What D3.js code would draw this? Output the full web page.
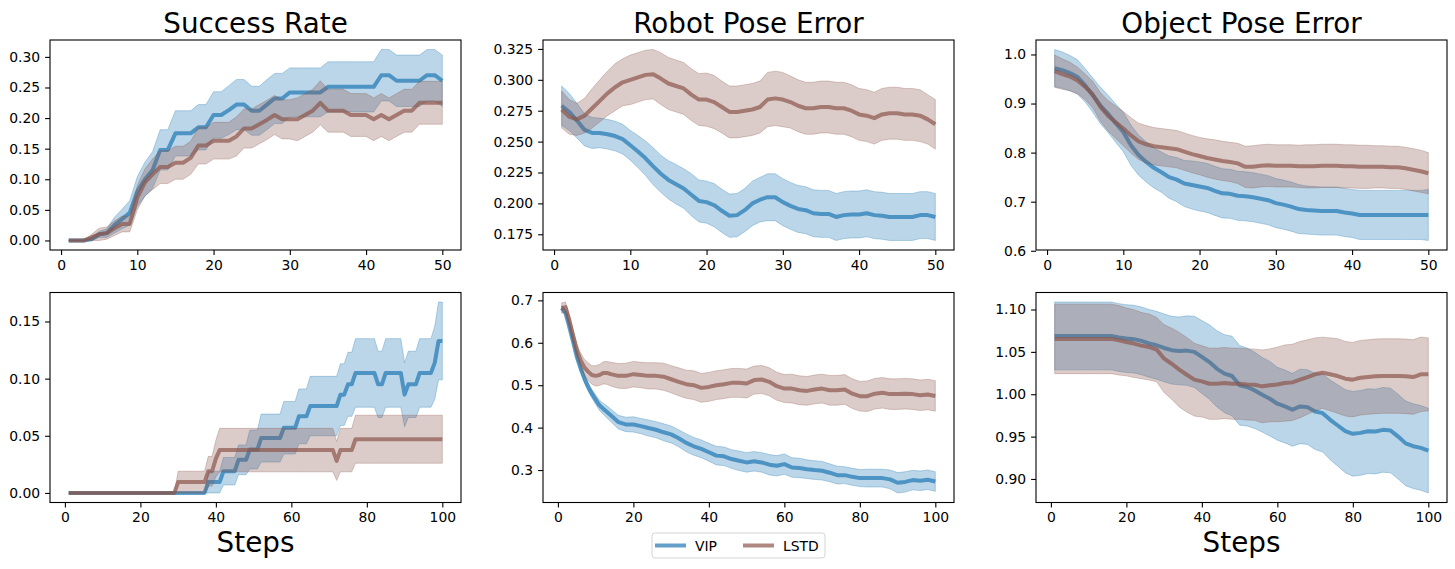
<!DOCTYPE html>
<html>
<head>
<meta charset="utf-8">
<script src="https://cdn.jsdelivr.net/npm/d3@7"></script>
<style>
  body { margin: 0; background: #fff; }
  text { font-family: "DejaVu Sans", sans-serif; }
</style>
</head>
<body>
<div id="chart"></div>
<script>
// ---- data ----
var stepsTop = d3.range(1, 51);
var stepsSuccessBottom = d3.range(1, 101);
var stepsRobotBottom = [1,2,3,4,5,6,7,8,9,10,11,12,13,14,16,18,20,22,24,26,28,30,32,34,36,38,40,42,44,46,48,50,
    52,54,56,58,60,62,64,66,68,70,72,74,76,78,80,82,84,86,88,90,92,94,96,98,100];
var stepsObjectBottom = [1,4,8,12,16,18,20,22,24,26,28,30,32,34,36,38,40,42,44,46,48,50,
    52,54,56,58,60,62,64,66,68,70,72,74,76,78,80,82,84,86,88,90,92,94,96,98,100];

// success rate, 50 steps
var vipSuccessTop = [0,0,0,0.002,0.01,0.012,0.025,0.035,0.045,0.08, 0.10,0.115,0.148,0.148,0.175,0.175,0.175,0.185,0.185,0.205,
    0.205,0.213,0.222,0.222,0.212,0.212,0.222,0.232,0.232,0.242, 0.242,0.242,0.242,0.242,0.251,0.251,0.251,0.251,0.251,0.251,
    0.251,0.27,0.27,0.261,0.261,0.261,0.261,0.27,0.27,0.261];
var vipSuccessTopStd = [0,0,0,0.002,0.005,0.007,0.013,0.016,0.02,0.024, 0.028,0.03,0.033,0.033,0.037,0.037,0.037,0.037,0.037,0.038,
    0.038,0.04,0.041,0.041,0.04,0.04,0.041,0.041,0.041,0.04, 0.04,0.04,0.04,0.04,0.041,0.041,0.041,0.041,0.041,0.041,
    0.041,0.042,0.042,0.042,0.042,0.042,0.042,0.042,0.042,0.042];
var lstdSuccessTop = [0,0,0,0.005,0.01,0.012,0.02,0.027,0.027,0.07, 0.095,0.108,0.12,0.12,0.127,0.127,0.135,0.155,0.155,0.163,
    0.163,0.163,0.17,0.183,0.183,0.19,0.197,0.205,0.198,0.198, 0.198,0.205,0.212,0.225,0.212,0.212,0.212,0.205,0.205,0.205,
    0.198,0.205,0.198,0.205,0.212,0.212,0.225,0.225,0.225,0.225];
var lstdSuccessTopStd = [0,0,0,0.005,0.01,0.01,0.012,0.013,0.013,0.02, 0.022,0.025,0.027,0.027,0.027,0.027,0.027,0.03,0.03,0.03,
    0.03,0.03,0.032,0.032,0.032,0.032,0.032,0.032,0.032,0.032, 0.035,0.035,0.035,0.036,0.035,0.035,0.035,0.035,0.035,0.035,
    0.035,0.035,0.035,0.035,0.035,0.035,0.035,0.035,0.035,0.035];

// robot pose error, 50 steps
var vipRobotTop = [0.279,0.274,0.267,0.2595,0.257,0.257,0.256,0.2545,0.252,0.247, 0.242,0.2365,0.23,0.224,0.219,0.2155,0.212,0.207,0.202,0.201,
    0.1985,0.194,0.19,0.1905,0.1945,0.2,0.203,0.205,0.205,0.201, 0.198,0.1955,0.1945,0.192,0.1915,0.1915,0.189,0.1905,0.191,0.191,
    0.192,0.1905,0.19,0.189,0.189,0.189,0.189,0.1905,0.1905,0.189];
var vipRobotTopStd = [0.016,0.015,0.014,0.013,0.0125,0.012,0.012,0.012,0.012,0.012, 0.013,0.014,0.015,0.015,0.0155,0.016,0.016,0.017,0.017,0.017,
    0.0175,0.0175,0.0175,0.0175,0.0175,0.018,0.018,0.019,0.019,0.019, 0.019,0.019,0.019,0.019,0.019,0.019,0.019,0.019,0.019,0.019,
    0.019,0.019,0.019,0.019,0.019,0.019,0.019,0.019,0.019,0.019];
var lstdRobotTop = [0.276,0.27,0.268,0.271,0.277,0.283,0.289,0.294,0.298,0.3, 0.302,0.304,0.3045,0.301,0.297,0.295,0.293,0.288,0.284,0.284,
    0.282,0.278,0.274,0.274,0.275,0.276,0.278,0.284,0.285,0.284, 0.282,0.279,0.277,0.277,0.278,0.278,0.277,0.277,0.275,0.272,
    0.271,0.269,0.272,0.273,0.273,0.272,0.272,0.271,0.268,0.264];
var lstdRobotTopStd = [0.015,0.014,0.013,0.014,0.016,0.017,0.018,0.019,0.019,0.02, 0.02,0.02,0.02,0.021,0.021,0.021,0.021,0.021,0.021,0.0215,
    0.0215,0.021,0.021,0.021,0.021,0.021,0.021,0.022,0.022,0.022, 0.021,0.021,0.021,0.021,0.021,0.021,0.021,0.021,0.021,0.021,
    0.021,0.021,0.021,0.021,0.021,0.021,0.021,0.021,0.02,0.02];

// object pose error, 50 steps
var vipObjectTop = [0.972,0.968,0.962,0.954,0.937,0.917,0.896,0.879,0.86,0.842, 0.815,0.795,0.781,0.769,0.76,0.75,0.745,0.737,0.734,0.731,
    0.728,0.722,0.717,0.716,0.712,0.711,0.709,0.706,0.703,0.697, 0.694,0.69,0.685,0.683,0.682,0.681,0.681,0.681,0.678,0.676,
    0.673,0.673,0.673,0.673,0.673,0.673,0.673,0.673,0.673,0.673];
var vipObjectTopStd = [0.038,0.037,0.036,0.035,0.034,0.035,0.037,0.038,0.039,0.04, 0.041,0.041,0.041,0.041,0.041,0.043,0.045,0.047,0.049,0.05,
    0.05,0.05,0.05,0.05,0.05,0.05,0.05,0.05,0.05,0.05, 0.05,0.05,0.05,0.049,0.049,0.049,0.049,0.049,0.049,0.049,
    0.05,0.05,0.05,0.05,0.05,0.05,0.05,0.05,0.05,0.052];
var lstdObjectTop = [0.966,0.96,0.955,0.947,0.934,0.918,0.893,0.875,0.862,0.849, 0.835,0.823,0.817,0.813,0.811,0.809,0.807,0.802,0.797,0.793,
    0.789,0.786,0.783,0.781,0.778,0.771,0.771,0.773,0.774,0.773, 0.773,0.773,0.772,0.772,0.772,0.773,0.773,0.773,0.772,0.772,
    0.771,0.771,0.771,0.771,0.77,0.77,0.768,0.765,0.762,0.758];
var lstdObjectTopStd = [0.033,0.031,0.029,0.027,0.026,0.027,0.029,0.031,0.033,0.035, 0.036,0.037,0.038,0.038,0.038,0.038,0.038,0.038,0.038,0.038,
    0.039,0.04,0.04,0.04,0.041,0.042,0.043,0.043,0.043,0.043, 0.043,0.043,0.043,0.044,0.044,0.044,0.044,0.044,0.044,0.044,
    0.044,0.044,0.043,0.043,0.043,0.043,0.043,0.043,0.043,0.042];

// success rate, 100 steps
var vipSuccessBottom = [0,0,0,0,0,0,0,0,0,0, 0,0,0,0,0,0,0,0,0,0, 0,0,0,0,0,0,0,0,0,0, 0,0,0,0,0,0,0,0.0095,0.0095,0.0095,
    0.0095,0.019,0.019,0.019,0.019,0.029,0.029,0.029,0.038,0.038, 0.038,0.048,0.048,0.048,0.048,0.048,0.048,0.057,0.057,0.057,
    0.057,0.067,0.067,0.067,0.076,0.076,0.076,0.076,0.076,0.076, 0.076,0.076,0.086,0.086,0.095,0.095,0.105,0.105,0.105,0.105,
    0.105,0.105,0.095,0.095,0.105,0.105,0.105,0.105,0.105,0.086, 0.095,0.095,0.095,0.105,0.105,0.105,0.105,0.114,0.133,0.133];
var vipSuccessBottomStd = [0,0,0,0,0,0,0,0,0,0, 0,0,0,0,0,0,0,0,0,0, 0,0,0,0,0,0,0,0,0,0, 0,0,0,0,0,0,0,0.0095,0.0095,0.0095,
    0.0095,0.012,0.012,0.012,0.012,0.013,0.013,0.013,0.017,0.017, 0.017,0.021,0.021,0.021,0.021,0.021,0.021,0.023,0.023,0.023,
    0.023,0.024,0.024,0.024,0.026,0.026,0.026,0.026,0.026,0.026, 0.026,0.026,0.027,0.027,0.028,0.028,0.03,0.03,0.03,0.03,
    0.03,0.03,0.029,0.029,0.03,0.03,0.03,0.03,0.03,0.028, 0.029,0.029,0.029,0.03,0.03,0.03,0.03,0.032,0.034,0.034];
var lstdSuccessBottom = [0,0,0,0,0,0,0,0,0,0, 0,0,0,0,0,0,0,0,0,0, 0,0,0,0,0,0,0,0,0,0.0095, 0.0095,0.0095,0.0095,0.0095,0.0095,0.0095,0.0095,0.019,0.019,0.03,
    0.0375,0.0375,0.0375,0.0375,0.0375,0.0375,0.0375,0.0375,0.0375,0.0375, 0.0375,0.0375,0.0375,0.0375,0.0375,0.0375,0.0375,0.0375,0.0375,0.0375,
    0.0375,0.0375,0.0375,0.0375,0.0375,0.0375,0.0375,0.0375,0.0375,0.0375, 0.0375,0.028,0.0375,0.0375,0.0375,0.0375,0.047,0.047,0.047,0.047,
    0.047,0.047,0.047,0.047,0.047,0.047,0.047,0.047,0.047,0.047, 0.047,0.047,0.047,0.047,0.047,0.047,0.047,0.047,0.047,0.047];
var lstdSuccessBottomStd = [0,0,0,0,0,0,0,0,0,0, 0,0,0,0,0,0,0,0,0,0, 0,0,0,0,0,0,0,0,0,0.0095, 0.0095,0.0095,0.0095,0.0095,0.0095,0.0095,0.0095,0.013,0.013,0.016,
    0.019,0.019,0.019,0.019,0.019,0.019,0.019,0.019,0.019,0.019, 0.019,0.019,0.019,0.019,0.019,0.019,0.019,0.019,0.019,0.019,
    0.019,0.019,0.019,0.019,0.019,0.019,0.019,0.019,0.019,0.019, 0.019,0.017,0.019,0.019,0.019,0.019,0.021,0.021,0.021,0.021,
    0.021,0.021,0.021,0.021,0.021,0.021,0.021,0.021,0.021,0.021, 0.021,0.021,0.021,0.021,0.021,0.021,0.021,0.021,0.021,0.021];

// robot pose error, 100 steps (at stepsRobotBottom)
var vipRobotBottom = [0.682,0.67,0.638,0.603,0.567,0.54,0.516,0.496,0.48,0.466,0.4526,0.4447,0.437,0.429,
    0.413,0.4075,0.4075,0.4036,0.399,0.395,0.389,0.384,0.375,0.364,0.356,0.35,0.342,0.334,0.3325,0.326,0.322,0.318,
    0.3206,0.318,0.3126,0.31,0.314,0.306,0.305,0.302,0.3,0.2984,0.2937,0.288,0.288,0.284,0.281,0.281,0.281,0.281,
    0.278,0.27,0.272,0.2763,0.2747,0.277,0.273];
var vipRobotBottomStd = [0.005,0.006,0.007,0.007,0.008,0.009,0.009,0.01,0.01,0.011,0.012,0.013,0.014,0.015,
    0.016,0.017,0.018,0.018,0.019,0.019,0.02,0.02,0.02,0.021,0.021,0.021,0.021,0.022,0.022,0.022,0.023,0.023,
    0.023,0.023,0.024,0.024,0.024,0.023,0.023,0.022,0.022,0.022,0.021,0.021,0.02,0.02,0.02,0.021,0.021,0.021,
    0.022,0.024,0.024,0.023,0.023,0.023,0.023];
var lstdRobotBottom = [0.682,0.684,0.654,0.618,0.583,0.559,0.542,0.532,0.524,0.522,0.524,0.529,0.529,0.526,
    0.522,0.522,0.526,0.524,0.522,0.522,0.52,0.514,0.508,0.5024,0.5,0.4937,0.496,0.5,0.5024,0.5055,0.5055,0.504,
    0.512,0.5134,0.508,0.4976,0.492,0.492,0.488,0.4866,0.49,0.492,0.488,0.488,0.49,0.48,0.474,0.474,0.48,0.482,
    0.479,0.479,0.48,0.479,0.4763,0.478,0.4747];
var lstdRobotBottomStd = [0.012,0.012,0.013,0.014,0.015,0.017,0.019,0.021,0.022,0.024,0.025,0.026,0.027,0.028,
    0.029,0.03,0.03,0.03,0.031,0.031,0.032,0.032,0.033,0.033,0.034,0.034,0.034,0.034,0.034,0.034,0.034,0.034,
    0.033,0.033,0.033,0.033,0.033,0.034,0.034,0.034,0.034,0.034,0.035,0.035,0.035,0.035,0.035,0.036,0.036,0.036,
    0.036,0.036,0.036,0.036,0.036,0.036,0.036];

// object pose error, 100 steps (at stepsObjectBottom)
var vipObjectBottom = [1.0688,1.0688,1.0688,1.0688,1.0688,1.0669,1.0657,1.065,1.063,1.06,1.0578,1.0546,1.052,1.0511,
    1.0515,1.05,1.044,1.038,1.03,1.0243,1.0215,1.0105,1.0085,1.0045,0.9994,0.9947,0.9888,0.9856,0.9817,0.9856,0.9848,
    0.9797,0.9777,0.9698,0.9631,0.9564,0.9533,0.9544,0.9564,0.956,0.958,0.9572,0.95,0.942,0.9387,0.9367,0.9335];
var vipObjectBottomStd = [0.04,0.04,0.04,0.04,0.04,0.04,0.04,0.04,0.04,0.04,0.04,0.04,0.04,0.04,
    0.041,0.042,0.043,0.044,0.045,0.046,0.047,0.047,0.046,0.045,0.044,0.044,0.043,0.043,0.043,0.044,0.044,
    0.045,0.046,0.047,0.048,0.049,0.05,0.05,0.05,0.05,0.05,0.05,0.05,0.05,0.05,0.05,0.05];
var lstdObjectBottom = [1.0653,1.0653,1.0653,1.0653,1.0653,1.0637,1.0617,1.0598,1.0574,1.0558,1.0527,1.042,1.036,1.029,
    1.023,1.0172,1.0152,1.0124,1.0124,1.0132,1.0124,1.0124,1.0116,1.0112,1.0093,1.0105,1.0116,1.0132,1.014,1.0172,1.0203,
    1.0235,1.0254,1.0235,1.0215,1.0183,1.0172,1.0195,1.0203,1.0211,1.0215,1.0215,1.0215,1.0211,1.0203,1.0235,1.0235];
var lstdObjectBottomStd = [0.041,0.041,0.041,0.041,0.041,0.041,0.04,0.04,0.039,0.039,0.038,0.04,0.042,0.044,
    0.044,0.043,0.042,0.042,0.042,0.042,0.042,0.042,0.042,0.042,0.043,0.043,0.044,0.045,0.045,0.045,0.044,
    0.043,0.042,0.043,0.044,0.044,0.044,0.044,0.044,0.044,0.044,0.044,0.044,0.044,0.044,0.044,0.043];

// ticks
var xTicksTop = [0, 10, 20, 30, 40, 50];
var xTicksBottom = [0, 20, 40, 60, 80, 100];
var yTicksSuccessTop = [0, 0.05, 0.10, 0.15, 0.20, 0.25, 0.30];
var yTicksRobotTop = [0.175, 0.200, 0.225, 0.250, 0.275, 0.300, 0.325];
var yTicksObjectTop = [0.6, 0.7, 0.8, 0.9, 1.0];
var yTicksSuccessBottom = [0, 0.05, 0.10, 0.15];
var yTicksRobotBottom = [0.3, 0.4, 0.5, 0.6, 0.7];
var yTicksObjectBottom = [0.90, 0.95, 1.00, 1.05, 1.10];

var titles = ["Success Rate", "Robot Pose Error", "Object Pose Error"];
var methods = ["VIP", "LSTD"];
var colors = ["#1f77b4", "#8c564b"];

// ---- layout ----
var width = 1455, height = 569;
var colLeft = [50, 543, 1036];
var rowTop = [40, 292.5];
var axW = 411, axH = 210;
var tickLen = 4.9, tickPad = 4.9;

var panels = [
    {row: 0, col: 0, steps: stepsTop, series: [[vipSuccessTop, vipSuccessTopStd], [lstdSuccessTop, lstdSuccessTopStd]], xTicks: xTicksTop, yTicks: yTicksSuccessTop, fmt: ".2f"},
    {row: 0, col: 1, steps: stepsTop, series: [[vipRobotTop, vipRobotTopStd], [lstdRobotTop, lstdRobotTopStd]], xTicks: xTicksTop, yTicks: yTicksRobotTop, fmt: ".3f"},
    {row: 0, col: 2, steps: stepsTop, series: [[vipObjectTop, vipObjectTopStd], [lstdObjectTop, lstdObjectTopStd]], xTicks: xTicksTop, yTicks: yTicksObjectTop, fmt: ".1f"},
    {row: 1, col: 0, steps: stepsSuccessBottom, series: [[vipSuccessBottom, vipSuccessBottomStd], [lstdSuccessBottom, lstdSuccessBottomStd]], xTicks: xTicksBottom, yTicks: yTicksSuccessBottom, fmt: ".2f"},
    {row: 1, col: 1, steps: stepsRobotBottom, series: [[vipRobotBottom, vipRobotBottomStd], [lstdRobotBottom, lstdRobotBottomStd]], xTicks: xTicksBottom, yTicks: yTicksRobotBottom, fmt: ".1f"},
    {row: 1, col: 2, steps: stepsObjectBottom, series: [[vipObjectBottom, vipObjectBottomStd], [lstdObjectBottom, lstdObjectBottomStd]], xTicks: xTicksBottom, yTicks: yTicksObjectBottom, fmt: ".2f"}
];

var svg = d3.select("#chart").append("svg")
    .attr("width", width)
    .attr("height", height);

// matplotlib style 5% margins
function padded(lo, hi) {
    var m = (hi - lo) * 0.05;
    return [lo - m, hi + m];
}

panels.forEach(function(p) {
    var left = colLeft[p.col], top = rowTop[p.row];

    var x = d3.scaleLinear()
        .domain(padded(d3.min(p.steps), d3.max(p.steps)))
        .range([left, left + axW]);

    var lo = d3.min(p.series, function(s) { return d3.min(s[0], function(v, i) { return v - s[1][i]; }); });
    var hi = d3.max(p.series, function(s) { return d3.max(s[0], function(v, i) { return v + s[1][i]; }); });
    var y = d3.scaleLinear()
        .domain(padded(lo, hi))
        .range([top + axH, top]);

    var g = svg.append("g");

    p.series.forEach(function(s, k) {
        var pts = p.steps.map(function(st, i) { return {x: st, m: s[0][i], sd: s[1][i]}; });

        var line = d3.line()
            .x(function(d) { return x(d.x); })
            .y(function(d) { return y(d.m); });

        var area = d3.area()
            .x(function(d) { return x(d.x); })
            .y0(function(d) { return y(d.m - d.sd); })
            .y1(function(d) { return y(d.m + d.sd); });

        g.append("path")
            .datum(pts)
            .attr("d", line)
            .attr("fill", "none")
            .attr("stroke", colors[k])
            .attr("stroke-opacity", 0.7)
            .attr("stroke-width", 4)
            .attr("stroke-linejoin", "round");

        g.append("path")
            .datum(pts)
            .attr("d", area)
            .attr("fill", colors[k])
            .attr("fill-opacity", 0.3)
            .attr("stroke", colors[k])
            .attr("stroke-opacity", 0.3)
            .attr("stroke-width", 1);
    });

    // axes
    var xAxis = d3.axisBottom(x).tickValues(p.xTicks).tickSize(tickLen).tickPadding(tickPad).tickFormat(d3.format("d"));
    var yAxis = d3.axisLeft(y).tickValues(p.yTicks).tickSize(tickLen).tickPadding(tickPad).tickFormat(d3.format(p.fmt));

    var gx = svg.append("g").attr("transform", "translate(0," + (top + axH) + ")").call(xAxis);
    var gy = svg.append("g").attr("transform", "translate(" + left + ",0)").call(yAxis);
    [gx, gy].forEach(function(a) {
        a.select(".domain").remove();
        a.selectAll("line").attr("stroke", "#000").attr("stroke-width", 1.1);
        a.selectAll("text").attr("fill", "#000").style("font-size", "13.9px").style("font-family", "DejaVu Sans");
    });

    // frame (spines)
    svg.append("rect")
        .attr("x", left).attr("y", top)
        .attr("width", axW).attr("height", axH)
        .attr("fill", "none")
        .attr("stroke", "#000")
        .attr("stroke-width", 1.1);

    if (p.row === 0) {
        svg.append("text")
            .attr("x", left + axW / 2)
            .attr("y", 33)
            .attr("text-anchor", "middle")
            .style("font-size", "27.8px")
            .text(titles[p.col]);
    }
    if (p.row === 1 && p.col !== 1) {
        svg.append("text")
            .attr("x", left + axW / 2)
            .attr("y", 552)
            .attr("text-anchor", "middle")
            .style("font-size", "27.8px")
            .text("Steps");
    }
});

// legend under the middle bottom panel
var lg = svg.append("g").attr("transform", "translate(652,533)");
lg.append("rect")
    .attr("width", 173).attr("height", 25)
    .attr("rx", 3)
    .attr("fill", "#fff")
    .attr("stroke", "#d5d5d5")
    .attr("stroke-width", 1);

methods.forEach(function(m, k) {
    var ox = k === 0 ? 3 : 91;
    lg.append("line")
        .attr("x1", ox).attr("x2", ox + 31)
        .attr("y1", 12.5).attr("y2", 12.5)
        .attr("stroke", colors[k])
        .attr("stroke-opacity", 0.7)
        .attr("stroke-width", 4);
    lg.append("text")
        .attr("x", ox + 40)
        .attr("y", 17.5)
        .style("font-size", "13.9px")
        .text(m);
});
</script>
</body>
</html>
